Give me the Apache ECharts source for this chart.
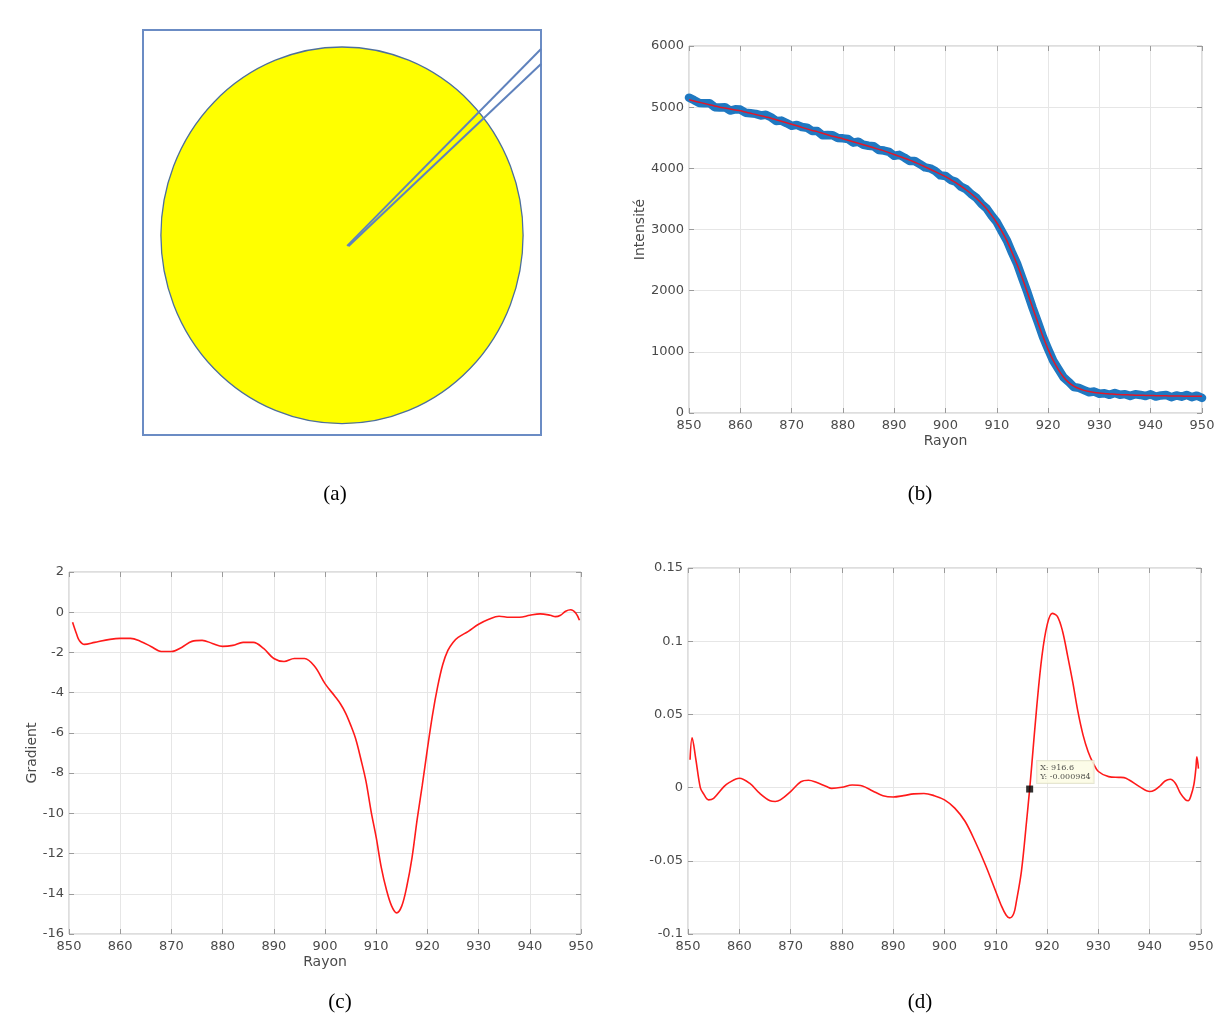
<!DOCTYPE html>
<html>
<head>
<meta charset="utf-8">
<script src="https://cdn.jsdelivr.net/npm/echarts@6/dist/echarts.min.js"></script>
<style>
html,body{margin:0;padding:0;background:#fff;}
#chart{width:1230px;height:1021px;}
</style>
</head>
<body>
<div id="chart"></div>
<script>
// ---------- Panel (a): schematic (normalised diagram units 0..1) ----------
var diskShape = [0.5, 0.493, 0.455, 0.465];          // centre x, centre y, radius x, radius y
var rayLine1 = [[0.513, 0.467], [1.0, 0.953]];
var rayLine2 = [[0.516, 0.466], [1.0, 0.916]];

// ---------- Panel (b): intensity profile ----------
var rayon = [850,851,852,853,854,855,856,857,858,859,860,861,862,863,864,865,866,867,868,869,
  870,871,872,873,874,875,876,877,878,879,880,881,882,883,884,885,886,887,888,889,
  890,891,892,893,894,895,896,897,898,899,900,901,902,903,904,905,906,907,908,909,
  910,911,912,913,914,915,916,917,918,919,920,921,922,923,924,925,926,927,928,929,
  930,931,932,933,934,935,936,937,938,939,940,941,942,943,944,945,946,947,948,949,950];
var intensiteBrute = [5155,5115,5070,5065,5065,5000,4995,5000,4945,4965,4960,4910,4900,4890,4865,4875,4835,4775,4780,4740,
  4695,4710,4675,4665,4610,4610,4540,4545,4540,4495,4490,4480,4420,4435,4385,4370,4360,4300,4290,4270,
  4205,4220,4175,4120,4120,4070,4015,4000,3955,3885,3875,3810,3780,3700,3660,3580,3520,3420,3345,3225,
  3120,2965,2815,2615,2430,2195,1965,1715,1485,1245,1045,855,720,585,510,425,410,375,340,350,
  315,323,297,327,297,308,280,307,295,278,306,269,287,295,258,287,266,295,259,283,247];
var intensiteLissee = [5120,5100,5080,5060,5040,5020,5000,4985,4970,4955,4940,4920,4900,4880,4860,4840,4820,4795,4770,4745,
  4720,4695,4670,4645,4620,4600,4575,4550,4525,4505,4485,4460,4435,4410,4385,4360,4335,4310,4285,4255,
  4225,4195,4165,4135,4100,4065,4025,3985,3945,3905,3865,3815,3765,3710,3650,3585,3510,3430,3340,3230,
  3110,2970,2810,2620,2420,2200,1960,1720,1480,1250,1040,860,710,590,500,440,400,370,350,335,
  325,318,312,307,302,298,295,292,290,288,286,284,282,280,278,277,276,275,274,273,272];

// ---------- Panel (c): gradient ----------
var gradX = [850.7,851.5,852,853,855,858,860,862,864,866,868,870,872,874,876,878,880,882,884,886,
  888,890,892,894,896,898,900,902,903,904,905,906,907,908,909,910,911,912,913,914,
  915,916,917,918,919,920,921,922,923,924,925,926,928,930,932,934,936,938,940,942,
  944,945,946,947,948,949,949.7];
var gradY = [-0.5,-1.1,-1.4,-1.6,-1.5,-1.35,-1.3,-1.3,-1.45,-1.7,-1.95,-1.95,-1.75,-1.45,-1.4,-1.55,-1.7,-1.65,-1.5,-1.5,
  -1.8,-2.3,-2.45,-2.3,-2.3,-2.7,-3.55,-4.2,-4.55,-5.0,-5.6,-6.3,-7.3,-8.4,-9.9,-11.2,-12.7,-13.8,-14.6,-14.95,
  -14.6,-13.6,-12.2,-10.3,-8.6,-6.8,-5.1,-3.7,-2.6,-1.9,-1.5,-1.25,-0.95,-0.6,-0.35,-0.2,-0.25,-0.25,-0.15,-0.08,
  -0.15,-0.22,-0.15,0.05,0.12,-0.05,-0.4];

// ---------- Panel (d): second derivative ----------
var d2X = [850.4,850.8,851.5,852.4,853,854,855,857,858,860,862,864,866,867,868,870,872,873.5,875,877,
  878,880,882,884,886,888,890,892,894,896,898,900,902,904,906,908,910,911,912,912.7,
  913.5,914,915,916,916.6,917,918,919,920,921,922,923,924,925,926,927,928,929,930,932,
  934,935,936,938,940,941,942,943,944,945,946,947,947.5,948,948.6,949,949.2,949.5];
var d2Y = [0.019,0.034,0.020,0.000,-0.004,-0.0084,-0.0073,0.0007,0.0034,0.0064,0.003,-0.004,-0.009,-0.0095,-0.0084,-0.0027,0.004,0.005,0.0036,0.0007,
  -0.0005,0.0002,0.0018,0.0011,-0.0023,-0.0055,-0.0064,-0.0055,-0.0043,-0.004,-0.0055,-0.0084,-0.014,-0.023,-0.037,-0.053,-0.071,-0.080,-0.087,-0.089,
  -0.086,-0.078,-0.057,-0.023,-0.001,0.015,0.056,0.090,0.111,0.119,0.117,0.107,0.090,0.072,0.052,0.036,0.0245,0.0166,0.011,0.0075,
  0.007,0.0068,0.0052,0.0007,-0.0027,-0.0016,0.0011,0.0045,0.0057,0.003,-0.004,-0.0084,-0.009,-0.006,0.0018,0.013,0.021,0.013];
var dataTip = [916.6, -0.000984];

// ---------- labels ----------
var panelLabels = ['(a)', '(b)', '(c)', '(d)'];
var xName = 'Rayon';
var yNameB = 'Intensité';
var yNameC = 'Gradient';

function pairs(xs, ys) { return xs.map(function (x, i) { return [x, ys[i]]; }); }

var FONT = 'DejaVu Sans';
var labelStyle = { color: '#4a4a4a', fontSize: 13, fontFamily: FONT, formatter: function (v) { return String(v); } };
var gridLine = { show: true, lineStyle: { color: '#e6e6e6', width: 1 } };
var tickIn = { show: true, inside: true, length: 5, lineStyle: { color: '#9a9a9a' } };
var noLine = { show: false, onZero: false };

function mainX(gi, min, max, interval, name, gap) {
  return { type: 'value', gridIndex: gi, min: min, max: max, interval: interval, position: 'bottom',
    axisLine: noLine, axisTick: tickIn, splitLine: gridLine,
    axisLabel: Object.assign({ margin: 6 }, labelStyle),
    name: name || '', nameLocation: 'middle', nameGap: gap || 20,
    nameTextStyle: { color: '#4a4a4a', fontSize: 14, fontFamily: FONT } };
}
function topX(gi, min, max, interval) {
  return { type: 'value', gridIndex: gi, min: min, max: max, interval: interval, position: 'top',
    axisLine: noLine, axisTick: tickIn, splitLine: { show: false }, axisLabel: { show: false } };
}
function mainY(gi, min, max, interval, name, gap) {
  return { type: 'value', gridIndex: gi, min: min, max: max, interval: interval, position: 'left',
    axisLine: noLine, axisTick: tickIn, splitLine: gridLine,
    axisLabel: Object.assign({ margin: 5 }, labelStyle),
    name: name || '', nameLocation: 'middle', nameGap: gap || 40, nameRotate: 90,
    nameTextStyle: { color: '#4a4a4a', fontSize: 14, fontFamily: FONT } };
}
function rightY(gi, min, max, interval) {
  return { type: 'value', gridIndex: gi, min: min, max: max, interval: interval, position: 'right',
    axisLine: noLine, axisTick: tickIn, splitLine: { show: false }, axisLabel: { show: false } };
}

var frame = { show: true, borderColor: '#bdbdbd', borderWidth: 1, backgroundColor: '#fff' };

var option = {
  backgroundColor: '#ffffff',
  animation: false,
  grid: [
    { left: 143, top: 30, width: 398, height: 405, show: true, borderColor: '#6b8cc4', borderWidth: 2 },
    Object.assign({ left: 689, top: 46, width: 513, height: 367 }, frame),
    Object.assign({ left: 69, top: 572, width: 512, height: 362 }, frame),
    Object.assign({ left: 688, top: 568, width: 513, height: 366 }, frame)
  ],
  xAxis: [
    { type: 'value', gridIndex: 0, min: 0, max: 1, show: false },
    mainX(1, 850, 950, 10, xName, 21),
    topX(1, 850, 950, 10),
    mainX(2, 850, 950, 10, xName, 21),
    topX(2, 850, 950, 10),
    mainX(3, 850, 950, 10),
    topX(3, 850, 950, 10)
  ],
  yAxis: [
    { type: 'value', gridIndex: 0, min: 0, max: 1, show: false },
    mainY(1, 0, 6000, 1000, yNameB, 37),
    rightY(1, 0, 6000, 1000),
    mainY(2, -16, 2, 2, yNameC, 30),
    rightY(2, -16, 2, 2),
    mainY(3, -0.1, 0.15, 0.05),
    rightY(3, -0.1, 0.15, 0.05)
  ],
  series: [
    {
      type: 'custom', xAxisIndex: 0, yAxisIndex: 0, silent: true,
      data: [diskShape],
      renderItem: function (params, api) {
        var cx = api.value(0), cy = api.value(1), rx = api.value(2), ry = api.value(3);
        var c = api.coord([cx, cy]);
        var e = api.coord([cx + rx, cy + ry]);
        var rpx = e[0] - c[0];
        var rpy = c[1] - e[1];
        return {
          type: 'circle', x: c[0], y: c[1], scaleY: rpy / rpx,
          shape: { cx: 0, cy: 0, r: rpx },
          style: { fill: '#ffff00', stroke: '#4d6f9c', lineWidth: 1.3 }
        };
      }
    },
    { type: 'line', xAxisIndex: 0, yAxisIndex: 0, data: rayLine1, symbol: 'none', silent: true,
      lineStyle: { color: '#5f82bd', width: 2 } },
    { type: 'line', xAxisIndex: 0, yAxisIndex: 0, data: rayLine2, symbol: 'none', silent: true,
      lineStyle: { color: '#5f82bd', width: 2 } },
    { type: 'line', xAxisIndex: 1, yAxisIndex: 1, data: pairs(rayon, intensiteBrute), symbol: 'none',
      lineStyle: { color: '#1f78c1', width: 8.5, cap: 'round', join: 'round' } },
    { type: 'line', xAxisIndex: 1, yAxisIndex: 1, data: pairs(rayon, intensiteLissee), symbol: 'none', smooth: 0.3,
      lineStyle: { color: '#e0182a', width: 1.5 } },
    { type: 'line', xAxisIndex: 3, yAxisIndex: 3, data: pairs(gradX, gradY), symbol: 'none', smooth: 0.35,
      lineStyle: { color: '#ff1a1a', width: 1.6 } },
    { type: 'line', xAxisIndex: 5, yAxisIndex: 5, data: pairs(d2X, d2Y), symbol: 'none', smooth: 0.35,
      lineStyle: { color: '#ff1a1a', width: 1.6 } },
    { type: 'scatter', xAxisIndex: 5, yAxisIndex: 5, data: [dataTip], symbol: 'rect', symbolSize: 7,
      itemStyle: { color: '#000' }, z: 5,
      label: {
        show: true, position: 'right', distance: 4, offset: [0, -17],
        formatter: function (p) { return 'X: ' + p.value[0] + '\nY: ' + p.value[1]; },
        fontSize: 8, lineHeight: 9, color: '#222', fontFamily: 'DejaVu Serif',
        backgroundColor: '#fbfbe2', borderColor: '#e0e0c8', borderWidth: 1, padding: [2, 3]
      } }
  ],
  graphic: [
    { type: 'text', x: 335, y: 494, style: { text: panelLabels[0], font: '21px "Liberation Serif"', fill: '#000', align: 'center', verticalAlign: 'middle' } },
    { type: 'text', x: 920, y: 494, style: { text: panelLabels[1], font: '21px "Liberation Serif"', fill: '#000', align: 'center', verticalAlign: 'middle' } },
    { type: 'text', x: 340, y: 1002, style: { text: panelLabels[2], font: '21px "Liberation Serif"', fill: '#000', align: 'center', verticalAlign: 'middle' } },
    { type: 'text', x: 920, y: 1002, style: { text: panelLabels[3], font: '21px "Liberation Serif"', fill: '#000', align: 'center', verticalAlign: 'middle' } }
  ]
};

var chart = echarts.init(document.getElementById('chart'), null, { renderer: 'canvas' });
chart.setOption(option);
</script>
</body>
</html>
